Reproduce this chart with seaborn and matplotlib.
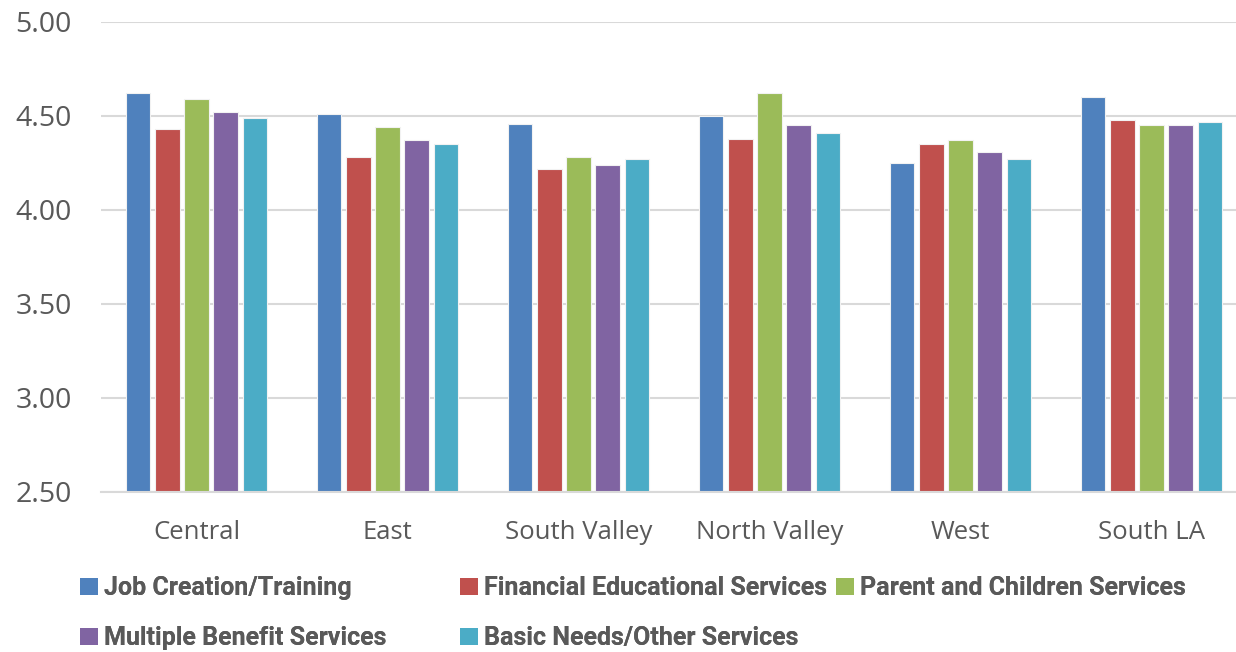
import matplotlib
matplotlib.use("Agg")
import matplotlib.pyplot as plt
import seaborn as sns
import pandas as pd
from matplotlib.patches import Patch

regions = ["Central", "East", "South Valley", "North Valley", "West", "South LA"]
series = ["Job Creation/Training", "Financial Educational Services",
          "Parent and Children Services", "Multiple Benefit Services",
          "Basic Needs/Other Services"]
job_creation = [4.62, 4.51, 4.46, 4.50, 4.25, 4.60]
financial_ed = [4.43, 4.28, 4.22, 4.38, 4.35, 4.48]
parent_children = [4.59, 4.44, 4.28, 4.62, 4.37, 4.45]
multiple_benefit = [4.52, 4.37, 4.24, 4.45, 4.31, 4.45]
basic_needs = [4.49, 4.35, 4.27, 4.41, 4.27, 4.47]
colors = ["#4F81BD", "#C0504D", "#9BBB59", "#8064A2", "#4BACC6"]
yticks = [2.5, 3.0, 3.5, 4.0, 4.5, 5.0]

values = [job_creation, financial_ed, parent_children, multiple_benefit, basic_needs]
rows = []
for s, vals in zip(series, values):
    for r, v in zip(regions, vals):
        rows.append({"region": r, "series": s, "value": v})
df = pd.DataFrame(rows)

sns.set_theme(style="white")
plt.rcParams["font.family"] = ["Open Sans", "DejaVu Sans"]

fig = plt.figure(figsize=(12.36, 6.52), dpi=100)
ax = fig.add_axes([101 / 1236, 1 - 492 / 652, 1146 / 1236, (492 - 22) / 652])

sns.barplot(data=df, x="region", y="value", hue="series", order=regions,
            hue_order=series, palette=colors, width=0.76, gap=0.17,
            edgecolor="#f2f2f2", linewidth=0.8, saturation=1, ax=ax,
            legend=False)

ax.set_ylim(2.5, 5.0)
ax.set_xlim(-0.5, len(regions) - 0.5)
ax.set_yticks(yticks)
ax.set_yticklabels([f"{t:.2f}" for t in yticks], fontsize=20.5, color="#595959")
ax.tick_params(axis="y", length=0, pad=21)
ax.tick_params(axis="x", length=0, pad=20, labelsize=18.5, labelcolor="#595959")
ax.set_xlabel("")
ax.set_ylabel("")
ax.yaxis.grid(True, color="#D9D9D9", linewidth=1.5)
ax.set_axisbelow(True)
for side in ["left", "right", "top"]:
    ax.spines[side].set_visible(False)
ax.spines["bottom"].set_color("#D9D9D9")
ax.spines["bottom"].set_linewidth(1.5)

positions = [(80, 588), (460, 588), (836, 588), (80, 638), (460, 638)]
for s, c, (px, py) in zip(series, colors, positions):
    leg = fig.legend(handles=[Patch(facecolor=c, edgecolor="none", label=s)],
                     loc="center left", bbox_to_anchor=(px / 1236, 1 - py / 652),
                     frameon=False, borderpad=0, borderaxespad=0,
                     handlelength=0.7, handleheight=0.7, handletextpad=0.25,
                     prop={"family": ["Roboto", "DejaVu Sans"], "weight": "bold", "size": 18})
    for t in leg.get_texts():
        t.set_color("#595959")
    fig.add_artist(leg)

fig.savefig("out.png", dpi=100)
